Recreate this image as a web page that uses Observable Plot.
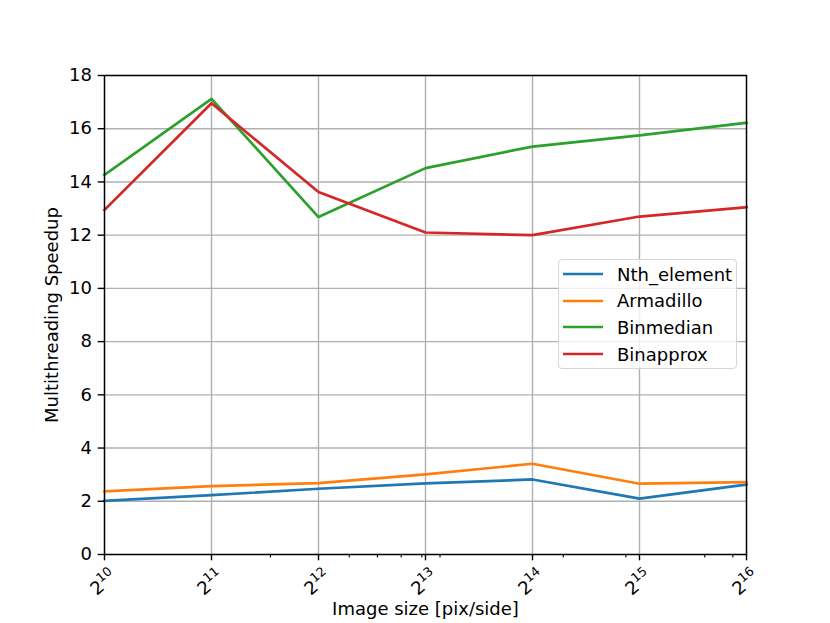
<!DOCTYPE html>
<html>
<head>
<meta charset="utf-8">
<script src="https://cdn.jsdelivr.net/npm/d3@7"></script>
<script src="https://cdn.jsdelivr.net/npm/@observablehq/plot@0.6"></script>
<style>
  html, body { margin: 0; padding: 0; background: white; }
  #wrap { position: relative; width: 830px; height: 623px; font-family: "DejaVu Sans", sans-serif; }
  #legend { position: absolute; left: 558px; top: 259px; width: 179px; height: 110px;
    border: 1.4px solid #d6d6d6; border-radius: 4px; background: rgba(255,255,255,0.8); box-sizing: border-box; }
  .item { position: absolute; left: 0; height: 26px; display: flex; align-items: center; font-size: 18px; color: black; }
  .swatch { display: block; margin-left: 4px; margin-right: 14px; }
  svg text.xtl { font-size: 18px !important; font-family: "DejaVu Sans" !important; }
  svg text.xtl tspan.sup { font-size: 12.6px !important; }
</style>
</head>
<body>
<div id="wrap"></div>
<script>
const sizes = [1024, 2048, 4096, 8192, 16384, 32768, 65536];
const exponents = ["10", "11", "12", "13", "14", "15", "16"];
const nthElement = [2.02, 2.23, 2.47, 2.67, 2.82, 2.10, 2.63];
const armadillo  = [2.37, 2.57, 2.68, 3.01, 3.41, 2.66, 2.72];
const binmedian  = [14.27, 17.12, 12.68, 14.52, 15.33, 15.75, 16.22];
const binapprox  = [12.95, 16.96, 13.62, 12.10, 12.00, 12.70, 13.05];
const seriesNames = ["Nth_element", "Armadillo", "Binmedian", "Binapprox"];
const seriesColors = ["#1f77b4", "#ff7f0e", "#2ca02c", "#d62728"];
const yTicks = [0, 2, 4, 6, 8, 10, 12, 14, 16, 18];
const xMinorTicks = [3000, 5000, 6000, 7000, 8000, 9000, 20000, 30000, 50000, 60000];
const xLabel = "Image size [pix/side]";
const yLabel = "Multithreading Speedup";

const seriesValues = [nthElement, armadillo, binmedian, binapprox];
const rows = seriesNames.flatMap((name, s) =>
  sizes.map((size, i) => ({series: name, size, value: seriesValues[s][i]})));

const chart = Plot.plot({
  width: 830, height: 623,
  marginTop: 75, marginBottom: 69, marginLeft: 104, marginRight: 84,
  style: {fontFamily: "DejaVu Sans", fontSize: "18px", color: "black", background: "white", overflow: "visible"},
  x: {type: "log", base: 2, domain: [1024, 65536]},
  y: {domain: [0, 18]},
  color: {domain: seriesNames, range: seriesColors},
  marks: [
    Plot.gridX(sizes, {stroke: "#b0b0b0", strokeOpacity: 1, strokeWidth: 1.4}),
    Plot.gridY(yTicks, {stroke: "#b0b0b0", strokeOpacity: 1, strokeWidth: 1.4}),
    Plot.line(rows, {x: "size", y: "value", z: "series", stroke: "series", strokeWidth: 2.7, strokeLinejoin: "round", strokeLinecap: "square"}),
    Plot.frame({stroke: "black", strokeWidth: 1.4}),
    Plot.axisY(yTicks, {tickSize: 6.3, tickPadding: 6.3, strokeWidth: 1.4, tickFormat: d => String(d), label: null, fontSize: 18}),
    Plot.axisX(sizes, {tickSize: 6.3, strokeWidth: 1.4, text: null, label: null}),
    Plot.axisX(xMinorTicks, {tickSize: 3.6, strokeWidth: 1.1, text: null, label: null}),
    Plot.text([yLabel], {text: d => d, frameAnchor: "left", dx: -52, rotate: -90, textAnchor: "middle", lineAnchor: "middle", fontSize: 18}),
    Plot.text([xLabel], {text: d => d, frameAnchor: "bottom", dy: 55, textAnchor: "middle", lineAnchor: "middle", fontSize: 18})
  ]
});

// x tick labels 2^n with superscript exponents, placed with the plot's x scale
const xs = chart.scale("x");
const labelY = 623 - 69 + 27;
const g = d3.select(chart).append("g")
  .attr("aria-label", "x tick labels")
  .attr("fill", "black");
sizes.forEach((s, i) => {
  const px = xs.apply(s) - 2;
  const t = g.append("text")
    .attr("class", "xtl")
    .attr("transform", `translate(${px},${labelY}) rotate(-40)`)
    .attr("text-anchor", "middle")
    .attr("dy", "0.45em");
  t.append("tspan").text("2");
  t.append("tspan").attr("class", "sup").attr("dy", "-0.6em").text(exponents[i]);
});

const wrap = document.getElementById("wrap");
wrap.appendChild(chart);

const legend = document.createElement("div");
legend.id = "legend";
seriesNames.forEach((name, i) => {
  const item = document.createElement("div");
  item.className = "item";
  item.style.top = (1 + i * 26.7) + "px";
  const ns = "http://www.w3.org/2000/svg";
  const sw = document.createElementNS(ns, "svg");
  sw.setAttribute("width", "40");
  sw.setAttribute("height", "6");
  sw.setAttribute("class", "swatch");
  const ln = document.createElementNS(ns, "line");
  ln.setAttribute("x1", "0"); ln.setAttribute("x2", "40");
  ln.setAttribute("y1", "3"); ln.setAttribute("y2", "3");
  ln.setAttribute("stroke", seriesColors[i]);
  ln.setAttribute("stroke-width", "2.7");
  sw.appendChild(ln);
  const lab = document.createElement("span");
  lab.textContent = name;
  item.appendChild(sw);
  item.appendChild(lab);
  legend.appendChild(item);
});
wrap.appendChild(legend);
</script>
</body>
</html>
